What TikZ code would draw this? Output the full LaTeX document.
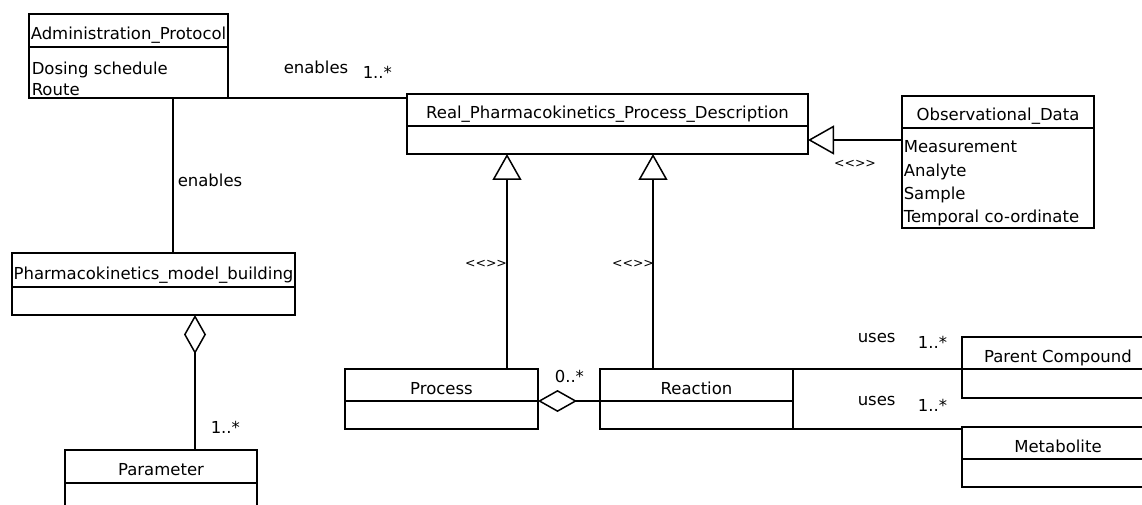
\documentclass[tikz,border=0pt]{standalone}
\usepackage{fontspec}
\setmainfont{DejaVu Sans}
\usetikzlibrary{
    arrows.meta,
    positioning,
    calc
}
\newcommand{\emptystereo}{<\kern0pt<\kern0pt>\kern0pt>}

\begin{document}
\begin{tikzpicture}[x=1pt, y=-1pt, line width=1.5pt,
    font=\fontsize{16.5}{20}\selectfont,
    classname/.style={draw, anchor=north west, outer sep=0pt, inner xsep=1pt, inner ysep=0pt,
        text height=25pt, text depth=7pt, minimum height=32pt},
    classbody/.style={draw, outer sep=0pt, inner sep=0pt, minimum height=28pt},
    attrs/.style={anchor=north west, inner sep=0pt, align=left},
    lbl/.style={anchor=base west, inner sep=0pt},
    stereo/.style={inner sep=0pt, font=\fontsize{12.5}{14}\selectfont},
    gen/.style={-{Triangle[open, length=26pt, width=29pt]}},
    agg/.style={{Diamond[open, length=39pt, width=22pt]}-}]
    \useasboundingbox (0,0) rectangle (1142,505);
    \fill[white] (0,0) rectangle (1142,505);

    % Classes: name compartment, then attribute compartment below
    \node[classname, minimum width=199pt, minimum height=33pt] (admt) at (29,14) {Administration\_Protocol};
    \node[classbody, minimum width=199pt, minimum height=51pt, below=0pt of admt] (admb) {};
    \node[attrs, font=\fontsize{16.5}{21}\selectfont] (admattr) at ([xshift=2pt, yshift=-14pt]admb.north west)
        {Dosing schedule\\Route};

    \node[classname, minimum width=401pt] (realt) at (407,94) {Real\_Pharmacokinetics\_Process\_Description};
    \node[classbody, minimum width=401pt, below=0pt of realt] (realb) {};

    \node[classname, minimum width=192pt] (obst) at (902,96) {Observational\_Data};
    \node[classbody, minimum width=192pt, minimum height=100pt, below=0pt of obst] (obsb) {};
    \node[attrs, font=\fontsize{16.5}{23.3}\selectfont] (obsattr) at ([xshift=1pt, yshift=-12pt]obsb.north west)
        {Measurement\\Analyte\\Sample\\Temporal co-ordinate};

    \node[classname, minimum width=283pt, minimum height=34pt] (pmbt) at (12,253) {Pharmacokinetics\_model\_building};
    \node[classbody, minimum width=283pt, below=0pt of pmbt] (pmbb) {};

    \node[classname, minimum width=192pt, minimum height=33pt] (paramt) at (65,450) {Parameter};
    \node[classbody, minimum width=192pt, minimum height=30pt, below=0pt of paramt] (paramb) {};

    \node[classname, minimum width=193pt] (processt) at (345,369) {Process};
    \node[classbody, minimum width=193pt, below=0pt of processt] (processb) {};

    \node[classname, minimum width=193pt] (reactt) at (600,369) {Reaction};
    \node[classbody, minimum width=193pt, below=0pt of reactt] (reactb) {};

    \node[classname, minimum width=192pt, minimum height=31pt] (parentt) at (962,337) {Parent Compound};
    \node[classbody, minimum width=192pt, minimum height=29pt, below=0pt of parentt] (parentb) {};

    \node[classname, minimum width=192pt] (metat) at (962,427) {Metabolite};
    \node[classbody, minimum width=192pt, below=0pt of metat] (metab) {};

    % Associations
    \draw (admb.south east) -- (admb.south east -| realt.west);
    \coordinate (ap) at ([xshift=44.5pt]admb.south);
    \draw (ap) -- (ap |- pmbt.north);
    \draw (reactt.north east) -- (reactt.north east -| parentt.west);
    \draw (reactb.south east) -- (reactb.south east -| metat.west);

    % Aggregations
    \coordinate (pp) at ([xshift=41.5pt]pmbb.south);
    \draw[agg] (pp) -- (pp |- paramt.north);
    \draw[agg] (processt.south east) -- (reactt.south west);

    % Generalisations towards the process description
    \coordinate (pr) at ([xshift=-31pt]processt.north east);
    \coordinate (rr) at ([xshift=53pt]reactt.north west);
    \draw[gen] (pr) -- (pr |- realb.south);
    \draw[gen] (rr) -- (rr |- realb.south);
    \draw[gen] (obsb.west |- realb.east) -- (realb.east);

    % Role names and multiplicities
    \node[lbl] (en1) at (283,74) {enables};
    \node[lbl] (m1) at (362,79) {1..*};
    \node[lbl] (en2) at (177,186) {enables};
    \node[lbl] (m2) at (210,433) {1..*};
    \node[lbl] (m3) at (554,382) {0..*};
    \node[lbl] (us1) at (857,342) {uses};
    \node[lbl] (m4) at (917,348) {1..*};
    \node[lbl] (us2) at (857,405) {uses};
    \node[lbl] (m5) at (917,411) {1..*};

    % Empty stereotypes
    \node[stereo] (st1) at (486,264) {\emptystereo};
    \node[stereo] (st2) at (633,264) {\emptystereo};
    \node[stereo] (st3) at (855,164) {\emptystereo};
\end{tikzpicture}
\end{document}
